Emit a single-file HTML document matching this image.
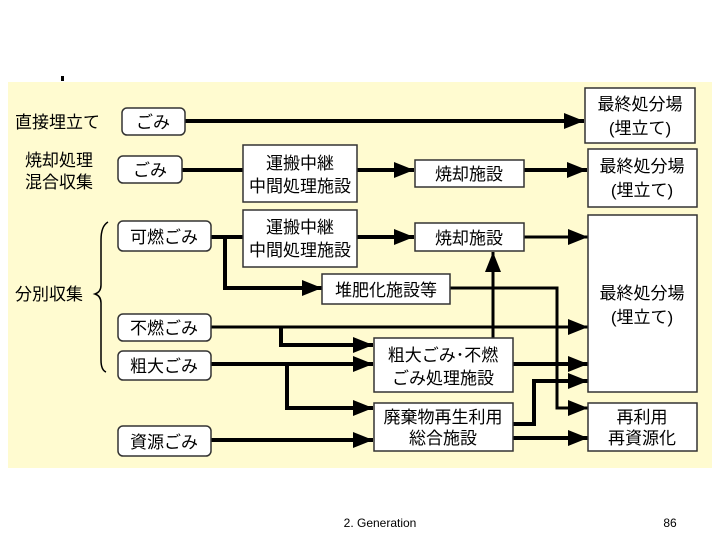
<!DOCTYPE html>
<html><head><meta charset="utf-8"><style>
body{margin:0;background:#fff;width:720px;height:540px;overflow:hidden}
svg text{font-family:"Liberation Sans","Noto Sans CJK JP",sans-serif;fill:#000}
</style></head><body>
<svg width="720" height="540" viewBox="0 0 720 540" xmlns="http://www.w3.org/2000/svg">
<defs>
<marker id="a" markerWidth="8" markerHeight="8" refX="7" refY="4" orient="auto" markerUnits="userSpaceOnUse" viewBox="0 0 8 8">
<path d="M0,0 L8,4 L0,8 z" fill="#000"/></marker>
<marker id="b" markerWidth="20" markerHeight="16" refX="20" refY="8" orient="auto" markerUnits="userSpaceOnUse" viewBox="0 0 20 16">
<path d="M0,0 L20,8 L0,16 z" fill="#000"/></marker>
</defs>
<rect x="61" y="76" width="3" height="5" fill="#000"/>
<rect x="8" y="82" width="704" height="386" fill="#fffbd0"/>
<g stroke="#000" fill="none" stroke-width="4">
<line x1="185" y1="121" x2="584" y2="121" marker-end="url(#b)"/>
<line x1="182" y1="170" x2="243" y2="170"/>
<line x1="357" y1="170" x2="414" y2="170" marker-end="url(#b)"/>
<line x1="524" y1="170" x2="587" y2="170" marker-end="url(#b)"/>
<line x1="211" y1="237" x2="243" y2="237"/>
<line x1="357" y1="237" x2="414" y2="237" marker-end="url(#b)"/>
<line x1="524" y1="237" x2="588" y2="237" stroke-width="3" marker-end="url(#b)"/>
<polyline points="225,237 225,288 322,288" marker-end="url(#b)"/>
<polyline points="450,288 557,288 557,408 588,408" stroke-width="3" marker-end="url(#b)"/>
<line x1="493" y1="338" x2="493" y2="252" stroke-width="3" marker-end="url(#b)"/>
<line x1="211" y1="327" x2="588" y2="327" stroke-width="3" marker-end="url(#b)"/>
<polyline points="281,327 281,345 373,345" marker-end="url(#b)"/>
<line x1="211" y1="364" x2="373" y2="364" marker-end="url(#b)"/>
<polyline points="287,364 287,408 373,408" marker-end="url(#b)"/>
<line x1="513" y1="364" x2="588" y2="364" marker-end="url(#b)"/>
<polyline points="513,424 534,424 534,381 588,381" marker-end="url(#b)"/>
<line x1="513" y1="438" x2="588" y2="438" marker-end="url(#b)"/>
<line x1="211" y1="440" x2="373" y2="440" marker-end="url(#b)"/>
</g>
<path d="M108,222 Q101,226 101,240 L101,285 Q101,292 95,294 Q101,296 101,303 L101,360 Q101,370 106,372" stroke="#000" stroke-width="1.5" fill="none"/>
<g fill="#fff" stroke="#333" stroke-width="1.5">
<rect x="122" y="108" width="63" height="27" rx="5"/>
<rect x="118" y="156" width="64" height="27" rx="5"/>
<rect x="118" y="221" width="93" height="30" rx="5"/>
<rect x="118" y="314" width="93" height="27" rx="5"/>
<rect x="118" y="351" width="93" height="29" rx="5"/>
<rect x="118" y="426" width="93" height="30" rx="5"/>
</g>
<g fill="#fff" stroke="#333" stroke-width="1.5">
<rect x="243" y="145" width="114" height="57"/>
<rect x="243" y="210" width="114" height="57"/>
<rect x="415" y="160" width="109" height="27"/>
<rect x="415" y="223" width="109" height="28"/>
<rect x="322" y="274" width="128" height="30"/>
<rect x="374" y="338" width="139" height="54"/>
<rect x="374" y="403" width="139" height="48"/>
<rect x="585" y="88" width="110" height="55"/>
<rect x="588" y="149" width="109" height="58"/>
<rect x="588" y="215" width="109" height="177"/>
<rect x="588" y="403" width="109" height="48"/>
</g>
<g font-size="17">
<text x="15" y="128">直接埋立て</text>
<text x="25" y="166">焼却処理</text>
<text x="25" y="188">混合収集</text>
<text x="15" y="300">分別収集</text>
<text x="153" y="128" text-anchor="middle">ごみ</text>
<text x="150" y="176" text-anchor="middle">ごみ</text>
<text x="164" y="243" text-anchor="middle">可燃ごみ</text>
<text x="164" y="334" text-anchor="middle">不燃ごみ</text>
<text x="164" y="372" text-anchor="middle">粗大ごみ</text>
<text x="164" y="448" text-anchor="middle">資源ごみ</text>
<text x="300" y="169" text-anchor="middle">運搬中継</text>
<text x="300" y="192" text-anchor="middle">中間処理施設</text>
<text x="300" y="233" text-anchor="middle">運搬中継</text>
<text x="300" y="256" text-anchor="middle">中間処理施設</text>
<text x="469" y="180" text-anchor="middle">焼却施設</text>
<text x="469" y="244" text-anchor="middle">焼却施設</text>
<text x="386" y="296" text-anchor="middle">堆肥化施設等</text>
<text x="443" y="361" text-anchor="middle">粗大ごみ･不燃</text>
<text x="443" y="384" text-anchor="middle">ごみ処理施設</text>
<text x="443" y="423" text-anchor="middle">廃棄物再生利用</text>
<text x="443" y="444" text-anchor="middle">総合施設</text>
<text x="640" y="110" text-anchor="middle">最終処分場</text>
<text x="640" y="134" text-anchor="middle">(埋立て)</text>
<text x="642" y="172" text-anchor="middle">最終処分場</text>
<text x="642" y="196" text-anchor="middle">(埋立て)</text>
<text x="642" y="299" text-anchor="middle">最終処分場</text>
<text x="642" y="323" text-anchor="middle">(埋立て)</text>
<text x="642" y="423" text-anchor="middle">再利用</text>
<text x="642" y="444" text-anchor="middle">再資源化</text>
</g>
<text x="380" y="527" font-size="12" text-anchor="middle">2. Generation</text>
<text x="670" y="527" font-size="12" text-anchor="middle">86</text>
</svg>
</body></html>
